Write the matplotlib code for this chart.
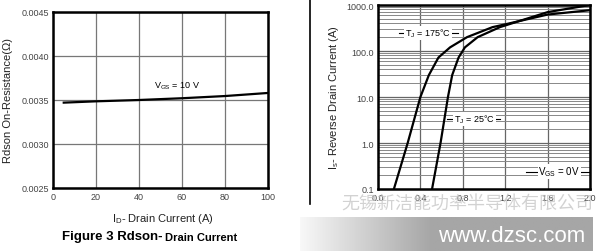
import numpy as np
import matplotlib.pyplot as plt
from matplotlib.ticker import FixedLocator, NullFormatter
from matplotlib.colors import LinearSegmentedColormap

plt.rcParams['font.family'] = ['Liberation Sans', 'DejaVu Sans']

# Figure 3: Rdson vs drain current
id_current = [5, 20, 40, 60, 80, 100]
rdson = [0.003470, 0.003485, 0.003500, 0.003520, 0.003545, 0.003580]

# Reverse drain current vs source-drain voltage
vsd_175 = [0.15, 0.28, 0.40, 0.48, 0.57, 0.68, 0.84, 1.08, 1.20, 1.60, 2.00]
is_175 = [0.1, 1, 10, 30, 72, 120, 200, 330, 380, 620, 770]
vsd_25 = [0.51, 0.59, 0.66, 0.70, 0.76, 0.82, 0.94, 1.15, 1.60, 2.00]
is_25 = [0.1, 1, 10, 30, 72, 120, 200, 330, 700, 1000]

fig = plt.figure(figsize=(6.0, 2.53), dpi=100)
W, H = 600, 253

def px_axes(x0, y0, x1, y1):
    return fig.add_axes([x0 / W, 1 - y1 / H, (x1 - x0) / W, (y1 - y0) / H])

tick_col = '#444444'

# ---- left panel ----
ax1 = px_axes(53, 13, 268, 189)
ax1.plot(id_current, rdson, color='black', lw=1.6)
ax1.set_xlim(0, 100)
ax1.set_ylim(0.0025, 0.0045)
ax1.set_xticks([0, 20, 40, 60, 80, 100])
ax1.set_yticks([0.0025, 0.0030, 0.0035, 0.0040, 0.0045])
ax1.set_yticklabels(['0.0025', '0.0030', '0.0035', '0.0040', '0.0045'])
ax1.grid(True, color='#777777', lw=0.9)
ax1.tick_params(length=0, labelsize=6.5, colors=tick_col, pad=3)
for s in ax1.spines.values():
    s.set_linewidth(1.8)
ax1.text(57.5, 0.00367, r'V$_{\mathregular{GS}}$ = 10 V', fontsize=6.5,
         ha='center', va='center')
ax1.set_ylabel('Rdson On-Resistance(Ω)', fontsize=8, color='#222222', labelpad=6)
fig.text(163 / W, 1 - 219 / H, r'I$_{\mathregular{D}}$- Drain Current (A)',
         fontsize=8, ha='center', va='center', color='#222222')
fig.text(62 / W, 1 - 237 / H, 'Figure 3 Rdson-', fontsize=9.5, fontweight='bold',
         ha='left', va='center')
fig.text(165 / W, 1 - 238 / H, 'Drain Current', fontsize=8, fontweight='bold',
         ha='left', va='center')

# ---- right panel ----
ax2 = px_axes(378, 6, 590, 190)
ax2.set_yscale('log')
ax2.set_xlim(0, 2.0)
ax2.set_ylim(0.1, 1000)
ax2.plot(vsd_175, is_175, color='black', lw=1.6, zorder=4)
ax2.plot(vsd_25, is_25, color='black', lw=1.6, zorder=4)
ax2.set_xticks([0.0, 0.4, 0.8, 1.2, 1.6, 2.0])
ax2.set_xticklabels(['0.0', '0.4', '0.8', '1.2', '1.6', '2.0'])
ax2.set_yticks([0.1, 1, 10, 100, 1000])
ax2.set_yticklabels(['0.1', '1.0', '10.0', '100.0', '1000.0'])
ax2.yaxis.set_minor_locator(FixedLocator(
    [m * 10.0 ** e for e in range(-1, 3) for m in range(2, 10)]))
ax2.yaxis.set_minor_formatter(NullFormatter())
ax2.grid(True, which='major', color='#666666', lw=0.9)
ax2.grid(True, which='minor', axis='y', color='#888888', lw=0.7)
ax2.tick_params(which='both', length=0, labelsize=6.5, colors=tick_col, pad=3)
for s in ax2.spines.values():
    s.set_linewidth(1.8)
ax2.set_ylabel(r'I$_{\mathregular{s}}$- Reverse Drain Current (A)', fontsize=8,
               color='#222222', labelpad=4)

ax2.plot([0.20, 0.75], [250, 250], color='black', lw=0.8, zorder=3)
ax2.text(0.47, 250, r'T$_{\mathregular{J}}$ = 175°C', fontsize=6.5, ha='center',
         va='center', zorder=5, bbox=dict(fc='white', ec='none', pad=0.5))
ax2.plot([0.65, 1.15], [3.3, 3.3], color='black', lw=0.8, zorder=3)
ax2.text(0.91, 3.3, r'T$_{\mathregular{J}}$ = 25°C', fontsize=6.5, ha='center',
         va='center', zorder=5, bbox=dict(fc='white', ec='none', pad=0.5))
ax2.plot([1.40, 2.0], [0.24, 0.24], color='black', lw=0.8, zorder=3)
ax2.text(1.71, 0.24, r'V$_{\mathregular{GS}}$ = 0V', fontsize=7, ha='center',
         va='center', zorder=5, bbox=dict(fc='white', ec='none', pad=0.5))

# frame line to the left of the right panel
fig.add_artist(plt.Line2D([310 / W, 310 / W], [1 - 205 / H, 1.0],
                          transform=fig.transFigure, color='black', lw=1.2))

# watermark text
fig.text(467 / W, 1 - 205 / H, '无锡新洁能功率半导体有限公司', fontsize=13,
         color='#c4c4c4', alpha=0.75, ha='center', va='center',
         family=['Noto Sans CJK SC', 'DejaVu Sans'])

# grey gradient band with site text
band = fig.add_axes([300 / W, 1 - 252 / H, 293 / W, 34 / H])
grad = np.clip(np.linspace(0, 1, 256) / 0.45, 0, 1)
grey_map = LinearSegmentedColormap.from_list('band', ['#f8f8f8', '#a6a6a6'])
band.imshow(grad[None, :], aspect='auto', cmap=grey_map, vmin=0, vmax=1,
            extent=[0, 1, 0, 1])
band.set_axis_off()
band.text(0.975, 0.45, 'www.dzsc.com', fontsize=16, color='white',
          ha='right', va='center', transform=band.transAxes)

fig.savefig('out.png', dpi=100)
